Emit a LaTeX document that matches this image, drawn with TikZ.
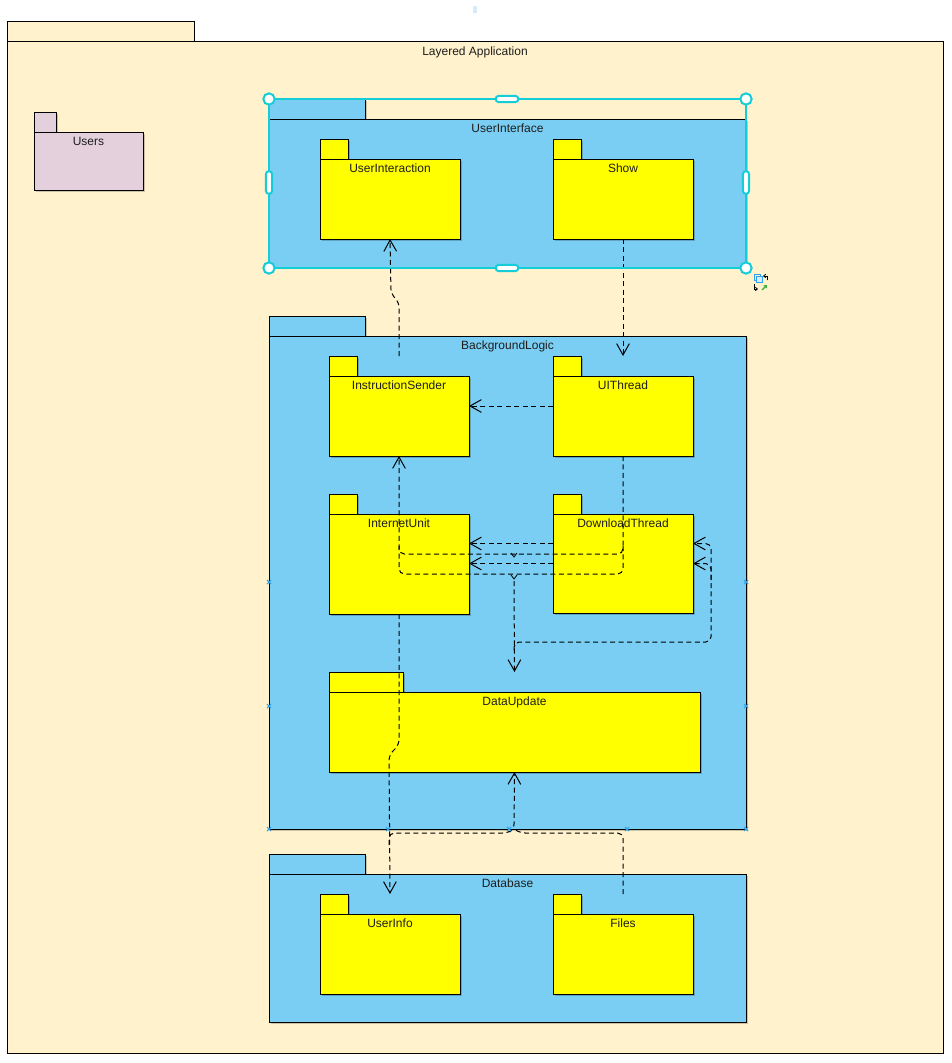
\documentclass[tikz,border=0pt]{standalone}
\usepackage{fontspec}
\setmainfont{Liberation Sans}
\usetikzlibrary{arrows.meta,shadows}
\definecolor{cream}{RGB}{255,242,204}
\definecolor{userspink}{RGB}{228,208,220}
\definecolor{pkgblue}{RGB}{122,206,243}
\definecolor{pkgyellow}{RGB}{255,255,0}
\definecolor{selcyan}{RGB}{20,205,215}
\definecolor{tickblue}{RGB}{50,160,230}
\definecolor{txt}{RGB}{30,30,30}
\definecolor{faintblue}{RGB}{214,234,248}
\definecolor{icongreen}{RGB}{60,170,60}
% name, x, y, width, height, tab width, style, label
\newcommand{\umlpkg}[8]{%
  \node[pkgpart, #7, minimum width=#6*0.75pt, minimum height=15pt, anchor=south west] (#1-tab) at (#2,#3) {};
  \node[pkgpart, #7, minimum width=#4*0.75pt, minimum height=#5*0.75pt, anchor=north west] (#1) at (#2,#3) {};
  \node[pkglabel] (#1-label) at ([yshift=-10pt]#1.north) {#8};
}
\begin{document}
\begin{tikzpicture}[x=0.75pt,y=-0.75pt,
  pkgpart/.style={rectangle, draw=black, line width=0.75pt, inner sep=0pt, outer sep=0pt},
  shadowed/.style={drop shadow={shadow xshift=1.6pt, shadow yshift=-1.6pt, fill=black, opacity=0.2}},
  creampkg/.style={fill=cream},
  pinkpkg/.style={fill=userspink, shadowed},
  bluepkg/.style={fill=pkgblue, shadowed},
  yellowpkg/.style={fill=pkgyellow, shadowed},
  pkglabel/.style={anchor=base, inner sep=0pt, text=txt, font=\fontsize{9}{11}\selectfont},
  dep/.style={draw=black, line width=0.75pt, dash pattern=on 3.75pt off 2.6pt, rounded corners=4pt,
    -{Straight Barb[length=8.5pt,width=9.5pt,line width=0.75pt]}},
  depline/.style={draw=black, line width=0.75pt, dash pattern=on 3.75pt off 2.6pt, rounded corners=4pt},
  jump/.style={draw=black, line width=0.6pt},
  tickmark/.style={draw=tickblue, line width=0.8pt},
  hcircle/.style={circle, draw=selcyan, fill=white, line width=1.5pt, minimum size=8.5pt, inner sep=0pt},
  hpillh/.style={rectangle, rounded corners=2.2pt, draw=selcyan, fill=white, line width=1.5pt, minimum width=17pt, minimum height=4.6pt, inner sep=0pt},
  hpillv/.style={rectangle, rounded corners=2.2pt, draw=selcyan, fill=white, line width=1.5pt, minimum width=4.6pt, minimum height=17pt, inner sep=0pt},
  selline/.style={draw=selcyan, line width=1.5pt}
]
\fill[white] (0,0) rectangle (951,1063);
\useasboundingbox (0,0) rectangle (951,1063);
\fill[faintblue] (473,6) rectangle (477,13);

% packages
\umlpkg{app}{7}{42}{936}{1011}{187}{creampkg}{Layered Application}
\umlpkg{users}{34}{132}{109}{58}{22}{pinkpkg}{Users}

\umlpkg{ui}{269}{119}{477}{148}{96}{bluepkg}{UserInterface}
\umlpkg{uinter}{320}{159}{140}{80}{28}{yellowpkg}{UserInteraction}
\umlpkg{show}{553}{159}{140}{80}{28}{yellowpkg}{Show}

\umlpkg{bl}{269}{336}{477}{493}{96}{bluepkg}{BackgroundLogic}
\umlpkg{isend}{329}{376}{140}{80}{28}{yellowpkg}{InstructionSender}
\umlpkg{uit}{553}{376}{140}{80}{28}{yellowpkg}{UIThread}
\umlpkg{iu}{329}{514}{140}{100}{28}{yellowpkg}{InternetUnit}
\umlpkg{dt}{553}{514}{140}{99}{28}{yellowpkg}{DownloadThread}
\umlpkg{du}{329}{692}{371}{80}{74}{yellowpkg}{DataUpdate}

\umlpkg{db}{269}{874}{477}{148}{96}{bluepkg}{Database}
\umlpkg{uinfo}{320}{914}{140}{80}{28}{yellowpkg}{UserInfo}
\umlpkg{files}{553}{914}{140}{80}{28}{yellowpkg}{Files}

% connectors
\draw[dep] ([yshift=15pt]isend.north) -- (399,302) -- (391,294) -- (uinter.south);
\draw[dep] (show.south) -- ([yshift=15pt]uit.north);
\draw[dep] ([yshift=7.5pt]uit.west) -- ([yshift=7.5pt]isend.west -| isend.east);
\draw[dep] ([yshift=15pt]dt.west) -- ([yshift=15pt]dt.west -| iu.east);
\draw[dep] (dt.west) -- (dt.west -| iu.east);
\draw[dep] (uit.south) -- (623,554) -- (399,554) -- (isend.south);
\draw[depline] (623,546) -- (623,574) -- (399,574) -- (399,546);
\draw[jump] (511,553) -- (514,557) -- (517,553);
\draw[jump] (511,575) -- (514,579) -- (517,575);
\draw[dep] (514,581) -- ([yshift=15pt]du.north);
\draw[dep] (514,650) -- (514,642) -- (711,642) -- (711,543.5) -- ([yshift=15pt]dt.east);
\draw[dep] (711,580) -- (711,563.5) -- (dt.east);
\draw[dep] (iu.south) -- (399,745) -- (389,755) -- ([yshift=15pt]uinfo.north);
\draw[dep] (389,845) -- (389,833) -- (508,833) -- (514,829) -- (du.south);
\draw[depline] ([yshift=15pt]files.north) -- (623,833) -- (520,833) -- (514,829);

% small edge markers
\foreach \x/\y in {269/582, 269/706, 269/829, 388/829, 509/829, 627/829, 746/829, 746/582, 746/706}
  \draw[tickmark] (\x-2,\y-2) -- (\x+2,\y+2) (\x-2,\y+2) -- (\x+2,\y-2);

% selection frame
\draw[selline] (269,99) rectangle (746,268);
\node[hcircle] (hnw) at (269,99) {};
\node[hcircle] (hne) at (746,99) {};
\node[hcircle] (hsw) at (269,268) {};
\node[hcircle] (hse) at (746,268) {};
\node[hpillh] (hn) at (507,99) {};
\node[hpillh] (hs) at (507,268) {};
\node[hpillv] (hw) at (269,182.5) {};
\node[hpillv] (he) at (746,182.5) {};

% move icon
\draw[tickblue, line width=0.6pt] (754,274) rectangle (760,280);
\draw[tickblue, fill=faintblue, line width=0.6pt] (756,276) rectangle (762,282);
\draw[black, line width=0.6pt, -{Straight Barb[length=1.5pt,width=2.5pt]}] (767,280) -- (767,276) -- (763,276);
\draw[black, line width=0.6pt, -{Straight Barb[length=1.5pt,width=2.5pt]}] (754,284) -- (754,289) -- (758,289);
\draw[icongreen, line width=0.9pt, -{Straight Barb[length=1.5pt,width=2.5pt]}] (762,290) -- (767,285);
\end{tikzpicture}
\end{document}
